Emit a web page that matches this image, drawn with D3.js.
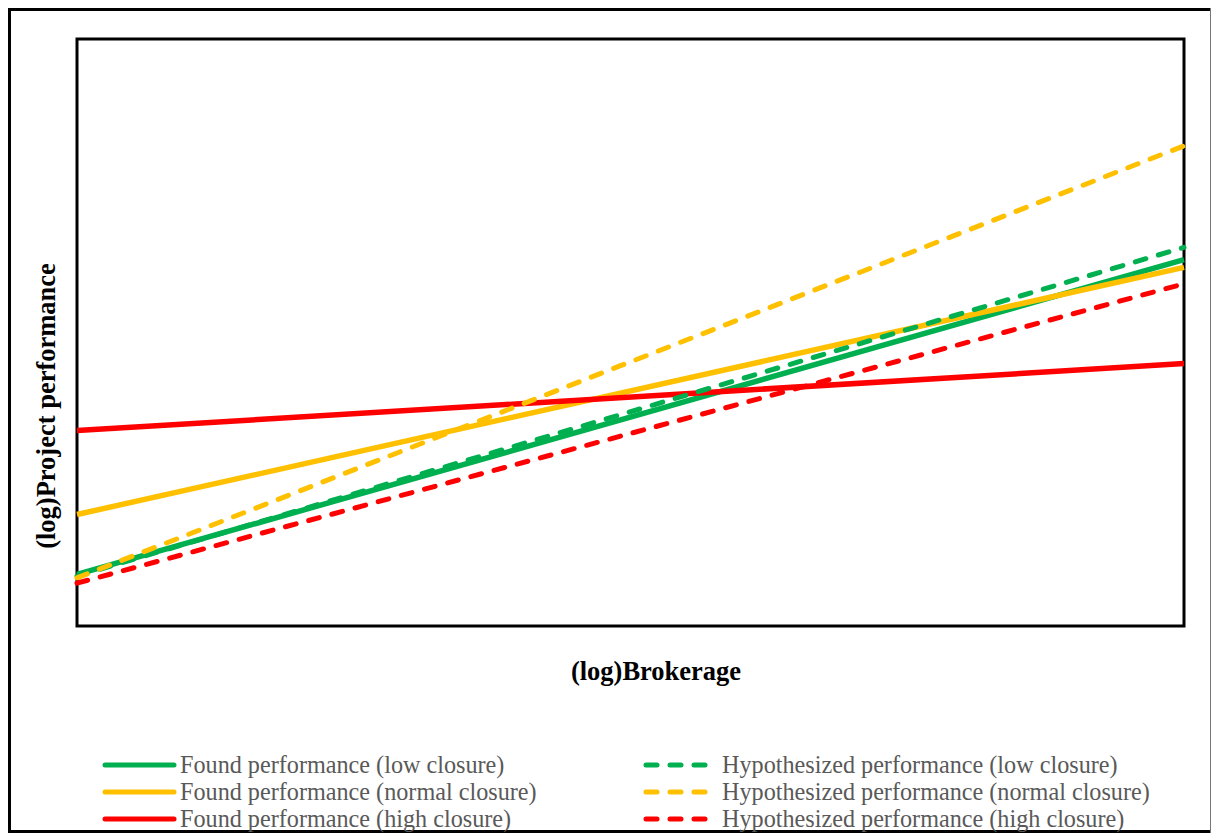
<!DOCTYPE html>
<html><head><meta charset="utf-8">
<script src="https://cdn.jsdelivr.net/npm/d3@7"></script>
<style>html,body{margin:0;padding:0;background:#fff;}svg{display:block;}</style>
</head><body>
<svg id="chart" width="1212" height="834"></svg>
<script>
// x positions: low and high brokerage (log scale, unitless)
const xValues = [0, 1];
// series values (unitless log project performance), start / end
const foundLow = [8.8, 62.4];
const foundNormal = [19.0, 61.1];
const foundHigh = [33.3, 44.7];
const hypLow = [8.5, 64.5];
const hypNormal = [8.2, 81.8];
const hypHigh = [7.3, 58.3];

const seriesNames = [
  "Found performance (low closure)",
  "Found performance (normal closure)",
  "Found performance (high closure)",
  "Hypothesized performance (low closure)",
  "Hypothesized performance (normal closure)",
  "Hypothesized performance (high closure)"
];
const seriesColors = ["#00B050", "#FFC000", "#FF0000", "#00B050", "#FFC000", "#FF0000"];
const seriesDashed = [false, false, false, true, true, true];
const seriesValues = [foundLow, foundNormal, foundHigh, hypLow, hypNormal, hypHigh];

const svg = d3.select("#chart");
const plot = {left: 77, top: 39, right: 1184, bottom: 626};

const x = d3.scaleLinear().domain([0, 1]).range([plot.left, plot.right]);
const y = d3.scaleLinear().domain([0, 100]).range([plot.bottom, plot.top]);

// outer frame (right edge is clipped in the original: thin grey)
svg.append("path").attr("d", "M1210,9.5 H9.5 V831.5 H1210")
  .attr("fill", "none").attr("stroke", "#000").attr("stroke-width", 3);
svg.append("line").attr("x1", 1210.5).attr("x2", 1210.5).attr("y1", 8).attr("y2", 833)
  .attr("stroke", "#777").attr("stroke-width", 1);

// plot frame
svg.append("rect").attr("x", plot.left).attr("y", plot.top)
  .attr("width", plot.right - plot.left).attr("height", plot.bottom - plot.top)
  .attr("fill", "none").attr("stroke", "#000").attr("stroke-width", 3);

const line = d3.line().x((d, i) => x(xValues[i])).y(d => y(d));

seriesValues.forEach((vals, i) => {
  svg.append("path").datum(vals)
    .attr("d", line)
    .attr("fill", "none")
    .attr("stroke", seriesColors[i])
    .attr("stroke-width", seriesDashed[i] ? 5 : 5.5)
    .attr("stroke-linecap", seriesDashed[i] ? "round" : "butt")
    .attr("stroke-dasharray", seriesDashed[i] ? "11,13" : null);
});

// axis titles
svg.append("text").attr("x", 656).attr("y", 680)
  .attr("text-anchor", "middle")
  .attr("font-family", "Liberation Serif, Times New Roman, serif")
  .attr("font-weight", "bold").attr("font-size", 26.5).attr("fill", "#000")
  .text("(log)Brokerage");

svg.append("text").attr("transform", "translate(55,406) rotate(-90)")
  .attr("text-anchor", "middle")
  .attr("font-family", "Liberation Serif, Times New Roman, serif")
  .attr("font-weight", "bold").attr("font-size", 26.5).attr("fill", "#000")
  .text("(log)Project performance");

// legend
const legendCols = [{x1: 105, x2: 174, tx: 180}, {x1: 646, x2: 710, tx: 722}];
const legendRows = [765, 792, 819];
seriesNames.forEach((name, i) => {
  const col = legendCols[seriesDashed[i] ? 1 : 0];
  const ry = legendRows[i % 3];
  const g = svg.append("g");
  g.append("line").attr("x1", col.x1).attr("x2", col.x2).attr("y1", ry).attr("y2", ry)
    .attr("stroke", seriesColors[i]).attr("stroke-width", 5)
    .attr("stroke-linecap", "round")
    .attr("stroke-dasharray", seriesDashed[i] ? "11,13" : null);
  g.append("text").attr("x", col.tx).attr("y", ry + 8)
    .attr("font-family", "Liberation Serif, Times New Roman, serif")
    .attr("font-size", 24.2).attr("fill", "#595959")
    .text(name);
});
</script>
</body></html>
